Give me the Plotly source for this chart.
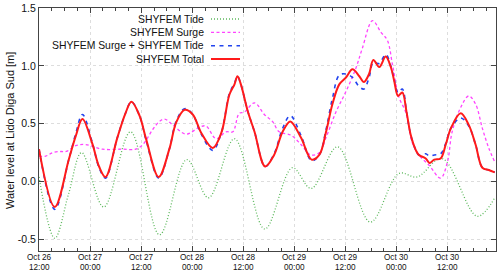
import pandas as pd
import plotly.graph_objects as go

start = pd.Timestamp("2019-10-26 12:00")

# hours since Oct 26 12:00 and water levels [m]
tide_hours = [0.0, 3.7, 7.0, 10.0, 15.2, 21.5, 28.3, 34.7, 39.8, 45.9, 53.0,
              59.5, 63.9, 70.1, 77.8, 84.5, 88.8, 94.6, 102.9, 107.0]
tide_vals = [0.04, -0.49, -0.10, 0.25, -0.22, 0.43, -0.46, 0.19, -0.14, 0.37, -0.41,
             0.12, -0.06, 0.30, -0.35, 0.07, 0.04, 0.20, -0.30, -0.14]

surge_hours = [0.0, 1.6, 3.2, 5.1, 6.4, 8.6, 10.9, 14.9, 19.5, 22.7, 24.4, 26.7,
               28.3, 29.5, 31.4, 34.5, 37.7, 39.2, 41.6, 43.9, 45.5, 47.0, 48.2,
               50.6, 52.9, 54.8, 56.4, 59.2, 61.5, 63.8, 65.8, 67.4, 69.7, 72.1,
               74.4, 75.9, 78.3, 80.3, 81.8, 83.0, 84.5, 86.1, 87.7, 89.2, 91.6,
               94.3, 95.9, 97.0, 99.0, 100.9, 102.5, 104.1, 105.6, 107.0]
surge_vals = [0.22, 0.22, 0.25, 0.26, 0.26, 0.31, 0.32, 0.28, 0.28, 0.28, 0.32, 0.45,
              0.52, 0.54, 0.49, 0.41, 0.47, 0.48, 0.37, 0.43, 0.43, 0.59, 0.60,
              0.68, 0.58, 0.52, 0.43, 0.40, 0.32, 0.23, 0.25, 0.38, 0.60, 0.78,
              0.98, 1.15, 1.39, 1.29, 1.22, 1.01, 0.73, 0.60, 0.33, 0.23, 0.14,
              0.03, 0.17, 0.43, 0.64, 0.74, 0.67, 0.46, 0.29, 0.17]

total_hours = [0.0, 3.7, 7.0, 8.6, 10.2, 12.5, 14.1, 15.6, 18.4, 20.3, 21.7, 23.6,
               25.2, 28.1, 30.6, 32.2, 34.2, 36.1, 38.1, 40.8, 42.8, 44.7, 45.9,
               46.6, 47.4, 49.0, 50.6, 53.1, 55.2, 57.2, 59.0, 61.5, 64.0, 65.8,
               67.4, 68.9, 70.5, 72.1, 73.6, 75.2, 76.3, 77.5, 78.5, 79.9, 81.4,
               82.6, 83.4, 84.3, 85.3, 86.3, 87.3, 88.5, 89.2, 90.8, 91.7, 92.8,
               94.3, 95.5, 96.7, 99.0, 100.9, 102.5, 104.1, 105.6, 107.0]
total_vals = [0.28, -0.22, 0.19, 0.39, 0.54, 0.33, 0.13, 0.04, 0.38, 0.59, 0.69, 0.57,
              0.36, 0.04, 0.28, 0.51, 0.62, 0.58, 0.42, 0.29, 0.42, 0.75, 0.84,
              0.91, 0.84, 0.61, 0.43, 0.13, 0.23, 0.43, 0.52, 0.38, 0.19, 0.23,
              0.43, 0.67, 0.84, 0.90, 0.97, 0.91, 0.86, 0.93, 1.05, 0.99, 1.08,
              0.99, 0.87, 0.74, 0.77, 0.60, 0.40, 0.27, 0.23, 0.20, 0.16, 0.19,
              0.20, 0.32, 0.46, 0.59, 0.49, 0.32, 0.12, 0.10, 0.08]

sum_hours = total_hours
sum_vals = [0.28, -0.24, 0.19, 0.41, 0.58, 0.34, 0.12, 0.03, 0.38, 0.59, 0.69, 0.57,
            0.35, 0.03, 0.28, 0.52, 0.63, 0.58, 0.41, 0.27, 0.42, 0.76, 0.85,
            0.91, 0.84, 0.61, 0.43, 0.13, 0.24, 0.46, 0.57, 0.40, 0.18, 0.23,
            0.45, 0.72, 0.92, 0.93, 0.90, 0.82, 0.80, 0.90, 1.03, 1.02, 1.10,
            1.00, 0.88, 0.77, 0.80, 0.60, 0.40, 0.27, 0.23, 0.24, 0.22, 0.23,
            0.24, 0.33, 0.46, 0.55, 0.48, 0.32, 0.12, 0.10, 0.08]

tick_hours = [0, 12, 24, 36, 48, 60, 72, 84, 96]
tick_dates = ["Oct 26", "Oct 27", "Oct 27", "Oct 28", "Oct 28",
              "Oct 29", "Oct 29", "Oct 30", "Oct 30"]
tick_times = ["12:00", "00:00", "12:00", "00:00", "12:00",
              "00:00", "12:00", "00:00", "12:00"]

series_names = ["SHYFEM Tide", "SHYFEM Surge", "SHYFEM Surge + SHYFEM Tide", "SHYFEM Total"]


def to_time(hours):
    return [start + pd.Timedelta(hours=h) for h in hours]


styles = [
    dict(color="#5cb85c", width=1.3, dash="1px,2px"),
    dict(color="#ff44ff", width=1.3, dash="3px,2.5px"),
    dict(color="#2244ee", width=1.6, dash="4px,4.5px"),
    dict(color="#ff1a1a", width=2.0, dash="solid"),
]
data = [(tide_hours, tide_vals), (surge_hours, surge_vals),
        (sum_hours, sum_vals), (total_hours, total_vals)]

fig = go.Figure()
for (hrs, vals), st, name in zip(data, styles, series_names):
    fig.add_trace(go.Scatter(x=to_time(hrs), y=vals, mode="lines", name=name,
                             line=dict(shape="spline", smoothing=1.0, **st),
                             showlegend=False))

font = "Liberation Sans, Arial, Helvetica, sans-serif"
W, H = 500, 274
L, R, T, B = 39, 4, 8, 23
pw, ph = W - L - R, H - T - B


def px_x(x):
    return (x - L) / pw


def px_y(y):
    return 1 - (y - T) / ph


# manual legend (text right-aligned, sample on the right)
leg_y = [19, 32.3, 45.7, 59]
for name, st, yy in zip(series_names, styles, leg_y):
    fig.add_annotation(x=px_x(205), y=px_y(yy), xref="paper", yref="paper",
                       text=name, showarrow=False, xanchor="right", yanchor="middle",
                       borderpad=0, font=dict(size=10.4, color="#111", family=font))
    fig.add_shape(type="line", xref="paper", yref="paper",
                  x0=px_x(211), x1=px_x(240), y0=px_y(yy), y1=px_y(yy),
                  line=dict(color=st["color"], width=st["width"], dash=st["dash"]))

# two-line time tick labels
for h, d, t in zip(tick_hours, tick_dates, tick_times):
    xt = start + pd.Timedelta(hours=h)
    fig.add_annotation(x=xt, y=px_y(257.8), xref="x", yref="paper", text=d,
                       showarrow=False, xanchor="center", yanchor="middle",
                       borderpad=0, font=dict(size=8.2, color="#111", family=font))
    fig.add_annotation(x=xt, y=px_y(267.6), xref="x", yref="paper", text=t,
                       showarrow=False, xanchor="center", yanchor="middle",
                       borderpad=0, font=dict(size=8.2, color="#111", family=font))

# y axis title
fig.add_annotation(x=px_x(10), y=px_y(131), xref="paper", yref="paper",
                   text="Water level at Lido Diga Sud [m]", textangle=-90,
                   showarrow=False, xanchor="center", yanchor="middle",
                   font=dict(size=11, color="#111", family=font))

fig.update_layout(
    width=W, height=H, margin=dict(l=L, r=R, t=T, b=B, autoexpand=False),
    paper_bgcolor="white", plot_bgcolor="white",
    font=dict(family=font, size=10, color="#111"),
)
fig.update_xaxes(
    range=[start, start + pd.Timedelta(hours=107.3)],
    tickvals=to_time(tick_hours), showticklabels=False,
    ticks="inside", ticklen=5, tickcolor="#444",
    minor=dict(dtick=3 * 3600 * 1000, ticks="inside", ticklen=3, tickcolor="#444",
               tick0=start, showgrid=False),
    showline=True, linecolor="#444", linewidth=1, mirror="allticks",
    showgrid=True, gridcolor="#dddddd", griddash="dot", gridwidth=1,
    zeroline=False, automargin=False,
)
fig.update_yaxes(
    range=[-0.6, 1.5], tickvals=[-0.5, 0.0, 0.5, 1.0, 1.5],
    ticktext=["-0.5", "0.0", "0.5", "1.0", "1.5"],
    ticks="inside", ticklen=5, tickcolor="#444",
    showline=True, linecolor="#444", linewidth=1, mirror="allticks",
    showgrid=True, gridcolor="#dddddd", griddash="dot", gridwidth=1,
    tickfont=dict(size=10.5), zeroline=False, automargin=False,
)

fig.write_html(
    "out.html",
    config={"displayModeBar": False},
    post_script="document.body.style.margin='0';document.body.style.padding='0';"
                "document.body.style.overflow='hidden';",
)
